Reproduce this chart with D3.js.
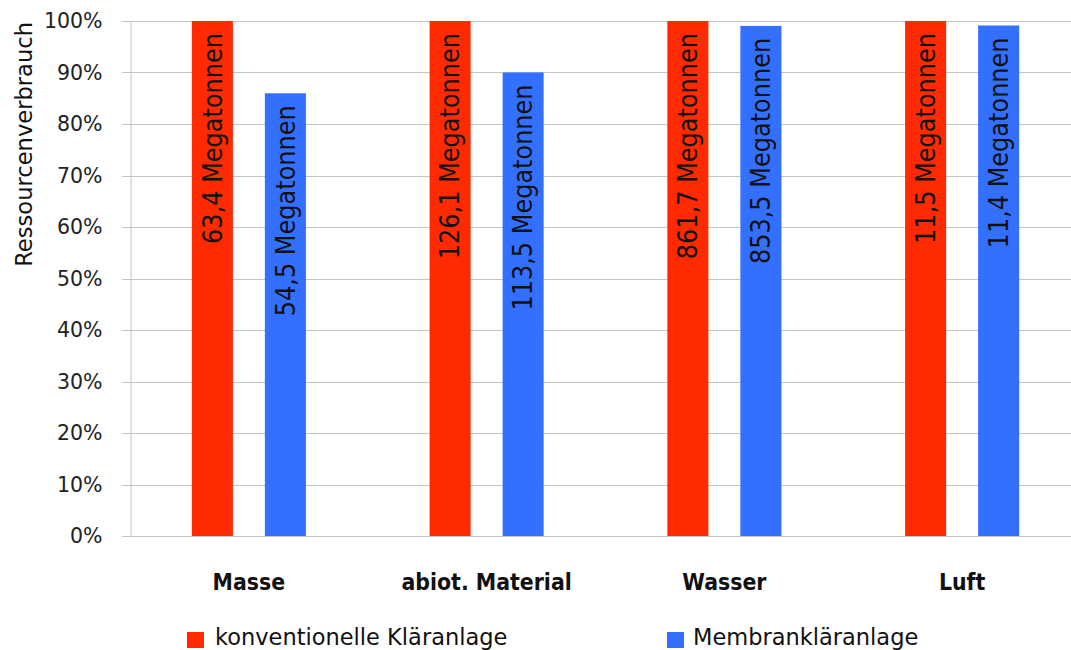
<!DOCTYPE html>
<html>
<head>
<meta charset="utf-8">
<script src="https://cdn.jsdelivr.net/npm/d3@7"></script>
<style>
  html, body { margin: 0; padding: 0; background: #fff; }
  svg { display: block; font-family: "DejaVu Sans", Verdana, sans-serif; }
</style>
</head>
<body>
<svg id="chart" width="1071" height="650"></svg>
<script>
// Resource consumption of two wastewater treatment plant types
const categories = ["Masse", "abiot. Material", "Wasser", "Luft"];
const seriesNames = ["konventionelle Kläranlage", "Membrankläranlage"];
const konventionell = [63.4, 126.1, 861.7, 11.5];   // megatonnes
const membran = [54.5, 113.5, 853.5, 11.4];         // megatonnes
const yTickValues = [0, 0.1, 0.2, 0.3, 0.4, 0.5, 0.6, 0.7, 0.8, 0.9, 1.0];
const colors = ["#ff2a00", "#3370ff"];

const svg = d3.select("#chart");

// each category is shown relative to the conventional plant (= 100 %)
const rows = categories.map((c, i) => ({
  category: c,
  values: [konventionell[i], membran[i]].map((v, s) => ({
    series: s,
    mt: v,
    share: v / konventionell[i]
  }))
}));

const x0 = d3.scaleBand().domain(categories).range([130, 1081]).paddingInner(0).paddingOuter(0);
const x1 = d3.scaleBand().domain([0, 1]).range([0, x0.bandwidth()]).paddingInner(0.438).paddingOuter(0.847);
const y = d3.scaleLinear().domain([0, 1]).range([536, 21]);

// grid lines
svg.append("g")
  .selectAll("line")
  .data(yTickValues)
  .join("line")
  .attr("x1", 122).attr("x2", 1071)
  .attr("y1", d => Math.round(y(d)) + 0.5).attr("y2", d => Math.round(y(d)) + 0.5)
  .attr("stroke", "#c4c4c4").attr("stroke-width", 1);

// y axis
const yAxis = d3.axisLeft(y).tickValues(yTickValues).tickFormat(d3.format(".0%")).tickSize(0).tickPadding(28);
const gy = svg.append("g").attr("transform", "translate(130.5,0)").call(yAxis);
gy.select(".domain").attr("stroke", "#c4c4c4");
gy.selectAll("text").attr("font-size", 20.5).attr("fill", "#222").attr("font-family", "DejaVu Sans, sans-serif");

// y axis title
svg.append("text")
  .attr("transform", "translate(32,22) rotate(-90)")
  .attr("text-anchor", "end")
  .attr("font-size", 22.6)
  .attr("fill", "#111")
  .text("Ressourcenverbrauch");

// bars
const groups = svg.append("g")
  .selectAll("g")
  .data(rows)
  .join("g")
  .attr("transform", d => `translate(${x0(d.category)},0)`);

groups.selectAll("rect")
  .data(d => d.values)
  .join("rect")
  .attr("x", d => x1(d.series))
  .attr("width", x1.bandwidth())
  .attr("y", d => y(d.share))
  .attr("height", d => y(0) - y(d.share))
  .attr("fill", d => colors[d.series]);

// value labels inside the bars
const fmt = v => d3.format(".1f")(v).replace(".", ",") + " Megatonnen";
groups.selectAll("text.val")
  .data(d => d.values)
  .join("text")
  .attr("class", "val")
  .attr("transform", d => `translate(${x1(d.series) + x1.bandwidth() / 2},${y(d.share) + 12}) scale(1.08,1) rotate(-90)`)
  .attr("text-anchor", "end")
  .attr("dy", "0.36em")
  .attr("font-size", 24)
  .attr("fill", "#111")
  .text(d => fmt(d.mt));

// category labels
svg.append("g")
  .selectAll("text")
  .data(categories)
  .join("text")
  .attr("transform", d => `translate(${x0(d) + x0.bandwidth() / 2},590) scale(1,1.08)`)
  .attr("text-anchor", "middle")
  .attr("font-size", 20.5)
  .attr("font-weight", "bold")
  .attr("fill", "#111")
  .text(d => d);

// legend
const legendX = [187, 667];
const legend = svg.append("g")
  .selectAll("g")
  .data(seriesNames)
  .join("g")
  .attr("transform", (d, i) => `translate(${legendX[i]},0)`);
legend.append("rect")
  .attr("x", 0).attr("y", 632).attr("width", 17).attr("height", 16)
  .attr("fill", (d, i) => colors[i]);
legend.append("text")
  .attr("x", (d, i) => i === 0 ? 28 : 26)
  .attr("y", 645)
  .attr("font-size", 22.5)
  .attr("fill", "#111")
  .text(d => d);
</script>
</body>
</html>
